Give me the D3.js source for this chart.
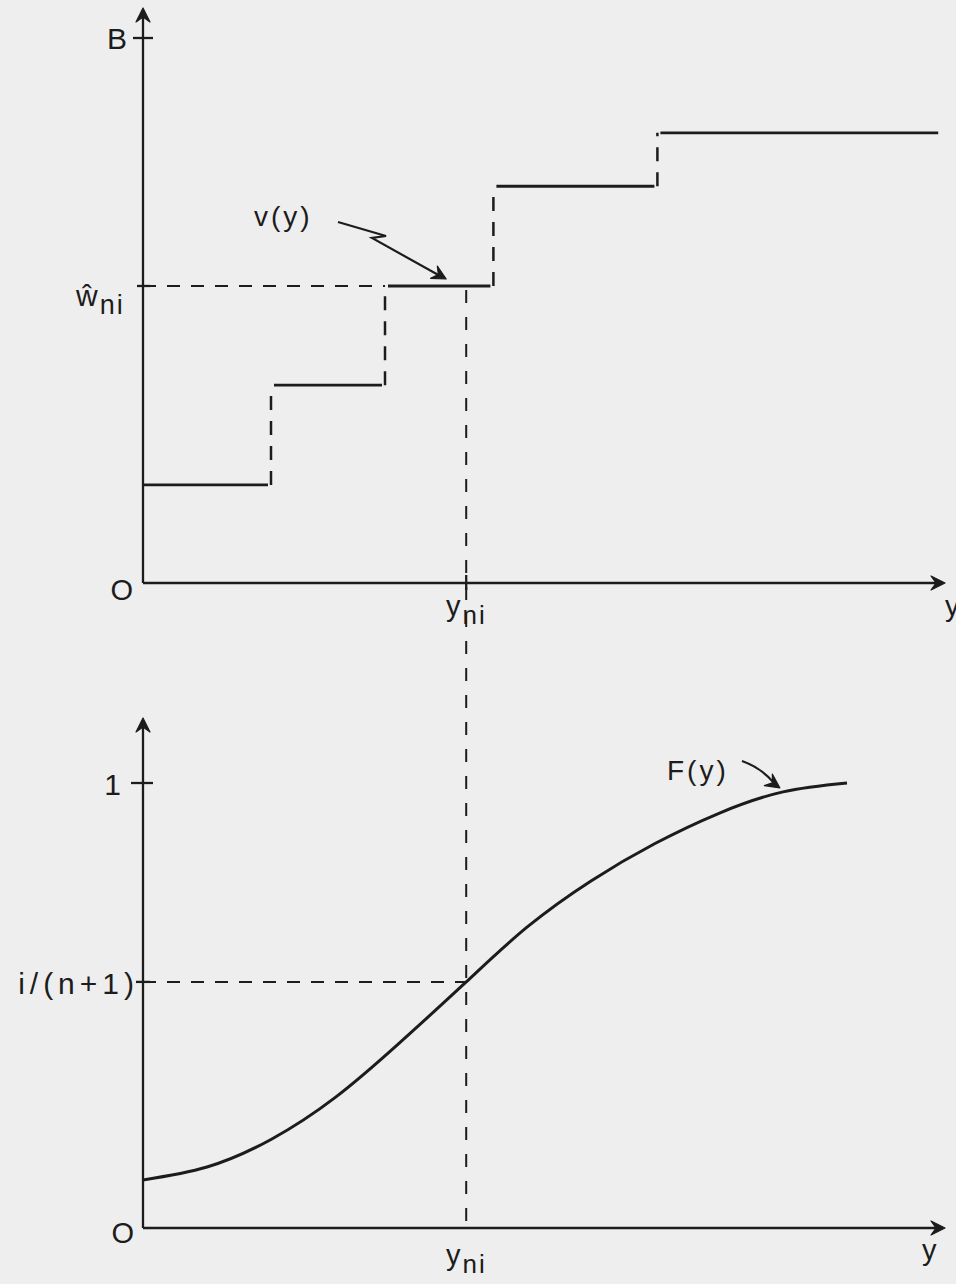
<!DOCTYPE html>
<html><head><meta charset="utf-8">
<script src="https://cdn.jsdelivr.net/npm/d3@7"></script>
<style>
body{margin:0;background:#eeeeee}
svg{display:block}
text{font-family:"Liberation Sans",Arial,sans-serif;fill:#1c1c1c}
</style>
</head><body><svg id="c" width="956" height="1284"></svg>
<script>
// ---- data ----
const stepBreaks = [0, 16, 30.25, 43.8, 64.3, 99.4];   // y positions where v(y) jumps
const stepLevels = [1.8, 3.63, 5.45, 7.28, 8.26];       // v(y) level on each interval
const yniX = 40.4;                                       // y_ni
const wniLevel = 5.45;                                   // ŵ_ni
const topMax = 10;                                       // B
const curveY = [0, 8, 16, 24, 32, 40.4, 48, 56, 64, 72, 80, 88];
const curveF = [0.108, 0.137, 0.199, 0.293, 0.415, 0.553, 0.676, 0.780, 0.864, 0.932, 0.980, 1.0];
const quantile = 0.553;                                  // i/(n+1)

// ---- scales ----
const svg = d3.select("#c");
const ink = "#1c1c1c";
const x = d3.scaleLinear().domain([0, 100]).range([143, 943]);
const yTop = d3.scaleLinear().domain([0, topMax]).range([583, 38]);
const yBot = d3.scaleLinear().domain([0, 1]).range([1228, 783]);

function arrowHead(px, py, angleDeg){
  svg.append("path")
    .attr("d", "M0,0 L-14,-7 L-9,0 L-14,7 Z")
    .attr("transform", `translate(${px},${py}) rotate(${angleDeg})`)
    .attr("fill", ink).attr("stroke", ink).attr("stroke-width", 1.2).attr("stroke-linejoin","round");
}
function line(x1,y1,x2,y2,w,dash){
  const l = svg.append("line").attr("x1",x1).attr("y1",y1).attr("x2",x2).attr("y2",y2)
    .attr("stroke",ink).attr("stroke-width",w);
  if(dash) l.attr("stroke-dasharray",dash);
  return l;
}
function subLabel(px, py, main, sub, anchor, size){
  const t = svg.append("text").attr("x",px).attr("y",py).attr("text-anchor",anchor||"start")
    .attr("font-size",size||29).attr("letter-spacing",2);
  t.append("tspan").text(main);
  t.append("tspan").attr("dy",8).attr("font-size",(size||29)-3).text(sub);
  return t;
}
const dash = "13,11";

// ---- top panel axes ----
line(x(0), yTop(0), x(0), 10, 2.3);
arrowHead(x(0), 8, -90);
line(x(0), yTop(0), 943, yTop(0), 2.3);
arrowHead(945, yTop(0), 0);
line(x(0)-10, yTop(topMax), x(0)+10, yTop(topMax), 2.3);
svg.append("text").attr("x",127).attr("y",yTop(topMax)+11).attr("text-anchor","end").attr("font-size",30).text("B");
svg.append("text").attr("x",133).attr("y",yTop(0)+17).attr("text-anchor","end").attr("font-size",29).text("O");
line(x(0)-6, yTop(wniLevel), x(0)+7, yTop(wniLevel), 2.3);
line(x(yniX), yTop(0)-8, x(yniX), yTop(0)+7, 2.3);
// ŵ_ni label
subLabel(76, yTop(wniLevel)+20, "ŵ", "ni", "start", 30);
subLabel(446, yTop(0)+33, "y", "ni", "start", 29);
svg.append("text").attr("x",945).attr("y",yTop(0)+33).attr("font-size",29).text("y");

// steps
stepLevels.forEach((lv,i)=>{
  line(x(stepBreaks[i]) + (i>0?3:0), yTop(lv), x(stepBreaks[i+1]) - (i<stepLevels.length-1?3:0), yTop(lv), 2.8);
  if(i<stepLevels.length-1){
    line(x(stepBreaks[i+1]), yTop(lv), x(stepBreaks[i+1]), yTop(stepLevels[i+1]), 2.5, "14,11");
  }
});
// dashed guides
line(x(0), yTop(wniLevel), x(stepBreaks[2]), yTop(wniLevel), 2, dash);
line(x(yniX), yTop(wniLevel)+4, x(yniX), yBot(0), 2, "13,14");

// v(y) annotation
svg.append("text").attr("x",254).attr("y",226).attr("font-size",28).attr("letter-spacing",3).text("v(y)");
const tipX = x(yniX) - 20, tipY = yTop(wniLevel) - 7;
svg.append("path").attr("d",`M338,222 L386,236 L372,238 L${tipX-6},${tipY-3}`)
  .attr("fill","none").attr("stroke",ink).attr("stroke-width",2.2).attr("stroke-linejoin","miter");
arrowHead(tipX, tipY, 29);

// ---- bottom panel ----
line(x(0), yBot(0), x(0), 720, 2.3);
arrowHead(x(0), 718, -90);
line(x(0), yBot(0), 943, yBot(0), 2.3);
arrowHead(945, yBot(0), 0);
line(x(0)-12, yBot(1), x(0)+10, yBot(1), 2.3);
svg.append("text").attr("x",121).attr("y",yBot(1)+12).attr("text-anchor","end").attr("font-size",30).text("1");
line(x(0)-7, yBot(quantile), x(0)+7, yBot(quantile), 2.3);
svg.append("text").attr("x",139).attr("y",yBot(quantile)+12).attr("text-anchor","end").attr("font-size",30).attr("letter-spacing",5).text("i/(n+1)");
svg.append("text").attr("x",134).attr("y",yBot(0)+15).attr("text-anchor","end").attr("font-size",29).text("O");
subLabel(446, yBot(0)+37, "y", "ni", "start", 29);
svg.append("text").attr("x",922).attr("y",yBot(0)+32).attr("font-size",29).text("y");

line(x(0), yBot(quantile), x(yniX), yBot(quantile), 2, dash);

const lineGen = d3.line().x((d,i)=>x(curveY[i])).y(d=>yBot(d)).curve(d3.curveNatural);
svg.append("path").datum(curveF).attr("d",lineGen)
  .attr("fill","none").attr("stroke",ink).attr("stroke-width",3);

// F(y) annotation
svg.append("text").attr("x",667).attr("y",780).attr("font-size",28).attr("letter-spacing",3).text("F(y)");
const fTipX = x(79.6), fTipY = yBot(0.98) - 4;
svg.append("path").attr("d",`M742,761 Q762,768 ${fTipX-5},${fTipY-4}`)
  .attr("fill","none").attr("stroke",ink).attr("stroke-width",2.2);
arrowHead(fTipX, fTipY, 35);
</script>
</body></html>
